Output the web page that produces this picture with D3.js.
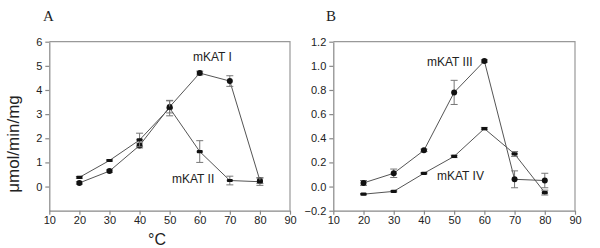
<!DOCTYPE html>
<html>
<head>
<meta charset="utf-8">
<script src="https://cdn.jsdelivr.net/npm/d3@7"></script>
<style>
  body { margin: 0; background: #fff; }
  svg text { font-family: "Liberation Sans", Arial, sans-serif; fill: #222; }
  .tick text { font-size: 11px; }
  .axis path, .axis line { stroke: #888; }
</style>
</head>
<body>
<div id="chart"></div>
<script>
//Temperatures (x)
var temps = [20, 30, 40, 50, 60, 70, 80];

//Panel A series
var mkat1 = [0.15, 0.64, 1.70, 3.30, 4.70, 4.37, 0.25];
var mkat1Err = [0.05, 0.05, 0.10, 0.25, 0.08, 0.22, 0.12];
var mkat2 = [0.38, 1.08, 1.93, 3.25, 1.45, 0.25, 0.20];
var mkat2Err = [0.04, 0.03, 0.28, 0.32, 0.45, 0.18, 0.15];

//Panel B series
var mkat3 = [0.03, 0.11, 0.30, 0.78, 1.04, 0.06, 0.05];
var mkat3Err = [0.02, 0.035, 0.01, 0.10, 0.01, 0.07, 0.06];
var mkat4 = [-0.063, -0.04, 0.11, 0.25, 0.48, 0.27, -0.05];
var mkat4Err = [0.005, 0.005, 0.005, 0.01, 0.01, 0.02, 0.02];

//Tick labels
var xTicks = [10, 20, 30, 40, 50, 60, 70, 80, 90];
var yTicksA = [0, 1, 2, 3, 4, 5, 6];
var yTicksB = [-0.2, 0, 0.2, 0.4, 0.6, 0.8, 1.0, 1.2];

var svg = d3.select("#chart").append("svg")
    .attr("width", 600)
    .attr("height", 248);

var plotTop = 41.7, plotBottom = 210.7;

function drawPanel(cfg) {
    var x = d3.scaleLinear().domain([10, 90]).range([cfg.left, cfg.right]);
    var y = d3.scaleLinear().domain(cfg.yDomain).range([plotBottom, plotTop]);

    //frame (top and right)
    svg.append("path")
        .attr("d", "M" + cfg.left + "," + plotTop + "H" + cfg.right + "V" + plotBottom)
        .attr("fill", "none")
        .attr("stroke", "#999")
        .attr("stroke-width", 1.2);

    svg.append("g")
        .attr("class", "axis")
        .attr("transform", "translate(0," + plotBottom + ")")
        .call(d3.axisBottom(x).tickValues(xTicks).tickSize(4).tickSizeOuter(0))
        .selectAll("text").attr("dy", "0.6em");

    var yAxis = d3.axisLeft(y).tickValues(cfg.yTicks).tickSize(4).tickSizeOuter(0)
        .tickFormat(cfg.fmt);
    svg.append("g")
        .attr("class", "axis")
        .attr("transform", "translate(" + cfg.left + ",0)")
        .call(yAxis);

    svg.selectAll(".axis path, .axis line").attr("stroke", "#888").attr("stroke-width", 1.2);

    var line = d3.line()
        .x(function(d) { return x(d.t); })
        .y(function(d) { return y(d.v); });

    cfg.series.forEach(function(s) {
        var pts = temps.map(function(t, i) { return { t: t, v: s.values[i], e: s.err[i] }; });

        svg.append("path")
            .attr("d", line(pts))
            .attr("fill", "none")
            .attr("stroke", "#555")
            .attr("stroke-width", 1);

        //error bars
        var eb = svg.append("g").selectAll("g").data(pts).enter().append("g");
        eb.append("line")
            .attr("x1", function(d) { return x(d.t); })
            .attr("x2", function(d) { return x(d.t); })
            .attr("y1", function(d) { return y(d.v - d.e); })
            .attr("y2", function(d) { return y(d.v + d.e); })
            .attr("stroke", "#777");
        [-1, 1].forEach(function(sg) {
            eb.append("line")
                .attr("x1", function(d) { return x(d.t) - 3.5; })
                .attr("x2", function(d) { return x(d.t) + 3.5; })
                .attr("y1", function(d) { return y(d.v + sg * d.e); })
                .attr("y2", function(d) { return y(d.v + sg * d.e); })
                .attr("stroke", "#777");
        });

        //markers
        if (s.marker === "circle") {
            svg.append("g").selectAll("circle").data(pts).enter().append("circle")
                .attr("cx", function(d) { return x(d.t); })
                .attr("cy", function(d) { return y(d.v); })
                .attr("r", 3)
                .attr("fill", "#111");
        } else {
            svg.append("g").selectAll("rect").data(pts).enter().append("rect")
                .attr("x", function(d) { return x(d.t) - 3; })
                .attr("y", function(d) { return y(d.v) - 1.6; })
                .attr("width", 6)
                .attr("height", 3.2)
                .attr("rx", 1)
                .attr("fill", "#111");
        }

        svg.append("text")
            .attr("x", s.labelPos[0])
            .attr("y", s.labelPos[1])
            .style("font-size", "12px")
            .text(s.name);
    });

    svg.append("text")
        .attr("x", cfg.letterPos[0])
        .attr("y", cfg.letterPos[1])
        .style("font-family", "'Liberation Serif', 'Times New Roman', serif")
        .style("font-size", "15px")
        .text(cfg.letter);
}

drawPanel({
    left: 49.3, right: 290, yDomain: [-1, 6], yTicks: yTicksA,
    fmt: d3.format("d"), letter: "A", letterPos: [43, 21],
    series: [
        { name: "mKAT I", values: mkat1, err: mkat1Err, marker: "circle", labelPos: [193, 61] },
        { name: "mKAT II", values: mkat2, err: mkat2Err, marker: "rect", labelPos: [172, 183] }
    ]
});

drawPanel({
    left: 333.3, right: 575, yDomain: [-0.2, 1.2], yTicks: yTicksB,
    fmt: d3.format(".1f"), letter: "B", letterPos: [326, 21],
    series: [
        { name: "mKAT III", values: mkat3, err: mkat3Err, marker: "circle", labelPos: [427, 66] },
        { name: "mKAT IV", values: mkat4, err: mkat4Err, marker: "rect", labelPos: [437, 180] }
    ]
});

//axis titles
svg.append("text")
    .attr("transform", "translate(19,144) rotate(-90)")
    .style("text-anchor", "middle")
    .style("font-size", "17px")
    .text("μmol/min/mg");

svg.append("text")
    .attr("x", 157)
    .attr("y", 245)
    .style("text-anchor", "middle")
    .style("font-size", "16px")
    .text("°C");
</script>
</body>
</html>
